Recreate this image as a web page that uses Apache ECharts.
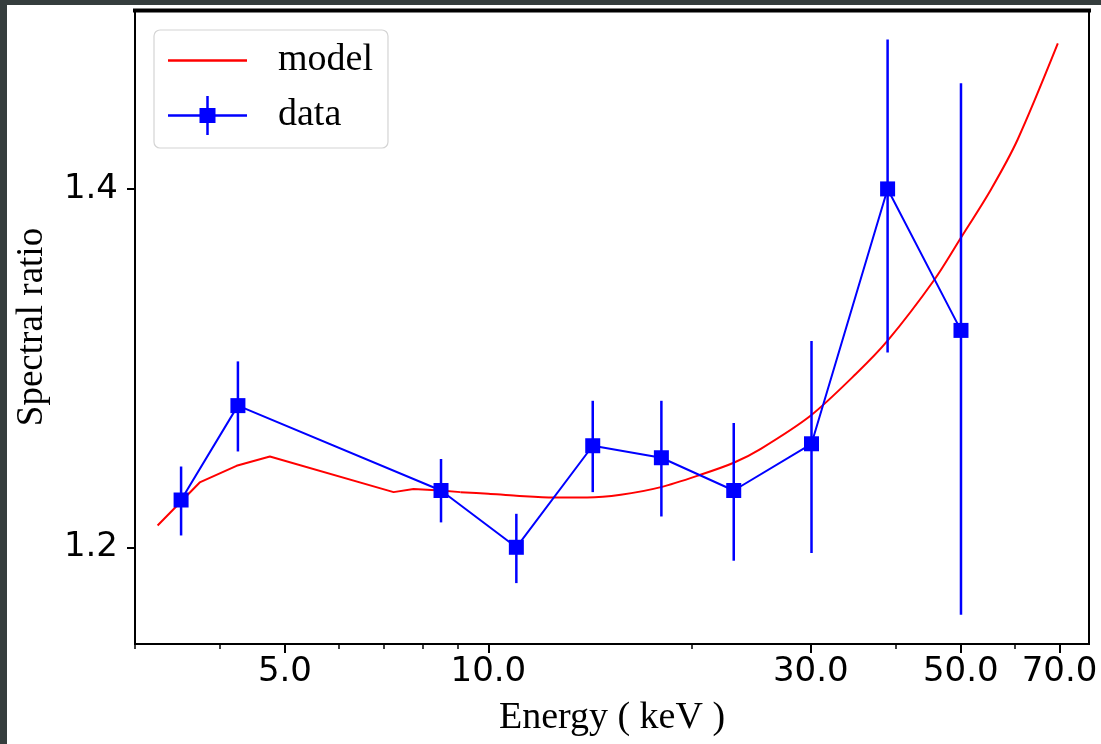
<!DOCTYPE html>
<html><head><meta charset="utf-8">
<script src="https://cdn.jsdelivr.net/npm/echarts@6/dist/echarts.min.js"></script>
<style>html,body{margin:0;padding:0;background:#fff;} #c{width:1101px;height:744px;}</style>
</head><body><div id="c"></div>
<script>
// ---- data ----
const energy  = [3.51, 4.26, 8.51, 11.0, 14.27, 18.03, 23.07, 30.07, 38.97, 50.04];
const ratio   = [1.2264, 1.2791, 1.2317, 1.2000, 1.2567, 1.2500, 1.2317, 1.2578, 1.4001, 1.3211];
const errLow  = [0.0198, 0.0256, 0.0178, 0.0200, 0.0259, 0.0328, 0.0392, 0.0610, 0.0913, 0.1588];
const errHigh = [0.0187, 0.0247, 0.0176, 0.0187, 0.0251, 0.0318, 0.0377, 0.0574, 0.0834, 0.1380];

// model curve: low-energy part (polyline with kinks) and high-energy part (smooth)
const modelEnergyLow = [3.24, 3.74, 4.24, 4.75, 7.24, 7.75, 8.5, 9.09];
const modelRatioLow  = [1.2122, 1.2362, 1.2455, 1.2507, 1.2308, 1.2325, 1.2317, 1.2308];
const modelEnergyHigh = [9.09, 10.0, 11.0, 12.5, 14.0, 15.7, 18.0, 20.6, 23.07, 25.3, 30.0, 35.0, 39.0, 45.7, 50.0, 55.4, 60.7, 69.6];
const modelRatioHigh  = [1.2308, 1.2299, 1.2288, 1.2278, 1.2278, 1.2293, 1.2336, 1.2405, 1.2472, 1.2550, 1.2736, 1.2969, 1.3155, 1.3494, 1.3727, 1.3997, 1.4277, 1.4813];

const xMajorTicks = [5, 10, 30, 50, 70];
const xMinorTicks = [3, 4, 6, 7, 8, 9, 20, 40, 60];
const yTicks = [1.2, 1.4];

const xMin = 3, xMax = 77.4, yMin = 1.146, yMax = 1.5;

const dataPts = energy.map((e, i) => [e, ratio[i]]);
const errPts = energy.map((e, i) => [e, ratio[i] - errLow[i], ratio[i] + errHigh[i]]);
const modelPtsLow = modelEnergyLow.map((e, i) => [e, modelRatioLow[i]]);
const modelPtsHigh = modelEnergyHigh.map((e, i) => [e, modelRatioHigh[i]]);

const serif = 'Liberation Serif';
const sans = 'DejaVu Sans';

const chart = echarts.init(document.getElementById('c'), null, {renderer: 'canvas'});
chart.setOption({
  backgroundColor: '#fff',
  animation: false,
  grid: {left: 135, right: 12, top: 10, bottom: 100, show: true, borderColor: '#000', borderWidth: 2, backgroundColor: 'transparent'},
  legend: {
    left: 154, top: 30, orient: 'vertical',
    itemWidth: 79, itemHeight: 39, itemGap: 16,
    padding: [11, 15, 13, 14],
    backgroundColor: '#fff', borderColor: '#d4d4d4', borderWidth: 1.2, borderRadius: 6,
    textStyle: {fontFamily: serif, fontSize: 38, color: '#000', lineHeight: 39, padding: [0, 0, 0, 26]},
    itemStyle: {borderWidth: 0},
    data: [
      {name: 'model', icon: 'path://M0,0h79v2.5H0z'},
      {name: 'data', icon: 'path://M0,18.25h79v2.5H0z M31.5,12h16v15h-16z M38.25,0h2.5v39h-2.5z'}
    ]
  },
  xAxis: [{
    type: 'log', logBase: 10, min: xMin, max: xMax, position: 'bottom',
    axisLine: {show: true, onZero: false, lineStyle: {color: '#000', width: 2}},
    axisTick: {show: true, customValues: xMajorTicks, length: 9, lineStyle: {color: '#000', width: 2}},
    axisLabel: {customValues: xMajorTicks, formatter: v => Number(v).toFixed(1), fontFamily: sans, fontSize: 34, color: '#000', margin: 11},
    splitLine: {show: false}, minorTick: {show: false},
    name: 'Energy ( keV )', nameLocation: 'middle', nameGap: 55,
    nameTextStyle: {fontFamily: serif, fontSize: 38, color: '#000'}
  }, {
    type: 'log', logBase: 10, min: xMin, max: xMax, position: 'bottom',
    axisLine: {show: false},
    axisTick: {show: true, customValues: xMinorTicks, length: 5, lineStyle: {color: '#000', width: 1.5}},
    axisLabel: {show: false}, splitLine: {show: false}
  }],
  yAxis: {
    type: 'value', min: yMin, max: yMax,
    axisLine: {show: true, onZero: false, lineStyle: {color: '#000', width: 2}},
    axisTick: {show: true, customValues: yTicks, length: 8, lineStyle: {color: '#000', width: 2}},
    axisLabel: {customValues: yTicks, formatter: v => Number(v).toFixed(1), fontFamily: sans, fontSize: 34, color: '#000', margin: 17},
    splitLine: {show: false},
    name: 'Spectral ratio', nameLocation: 'middle', nameGap: 84, nameRotate: 90,
    nameTextStyle: {fontFamily: serif, fontSize: 37, color: '#000'}
  },
  series: [{
    name: 'model', type: 'line', data: modelPtsLow, symbol: 'none', showSymbol: false,
    color: '#ff0000', lineStyle: {color: '#ff0000', width: 2}, z: 2
  }, {
    name: 'model', type: 'line', data: modelPtsHigh, symbol: 'none', showSymbol: false,
    smooth: 0.3,
    color: '#ff0000', lineStyle: {color: '#ff0000', width: 2}, z: 2
  }, {
    name: 'errors', type: 'custom', data: errPts, z: 3,
    encode: {x: 0, y: [1, 2]},
    renderItem: (params, api) => {
      const lo = api.coord([api.value(0), api.value(1)]);
      const hi = api.coord([api.value(0), api.value(2)]);
      return {type: 'line', shape: {x1: lo[0], y1: lo[1], x2: hi[0], y2: hi[1]}, style: {stroke: '#0000ff', lineWidth: 2.5}};
    }
  }, {
    name: 'data', type: 'line', data: dataPts, symbol: 'rect', symbolSize: 15,
    color: '#0000ff', itemStyle: {color: '#0000ff'}, lineStyle: {color: '#0000ff', width: 2}, z: 4
  }],
  graphic: [
    {type: 'rect', shape: {x: 0, y: 0, width: 7, height: 744}, style: {fill: '#353d3d'}, z: 100},
    {type: 'rect', shape: {x: 0, y: 0, width: 1101, height: 5}, style: {fill: '#353d3d'}, z: 100},
    {type: 'line', shape: {x1: 133, y1: 10.5, x2: 1091, y2: 10.5}, style: {stroke: '#000', lineWidth: 4}, z: 100}
  ]
});
</script></body></html>
